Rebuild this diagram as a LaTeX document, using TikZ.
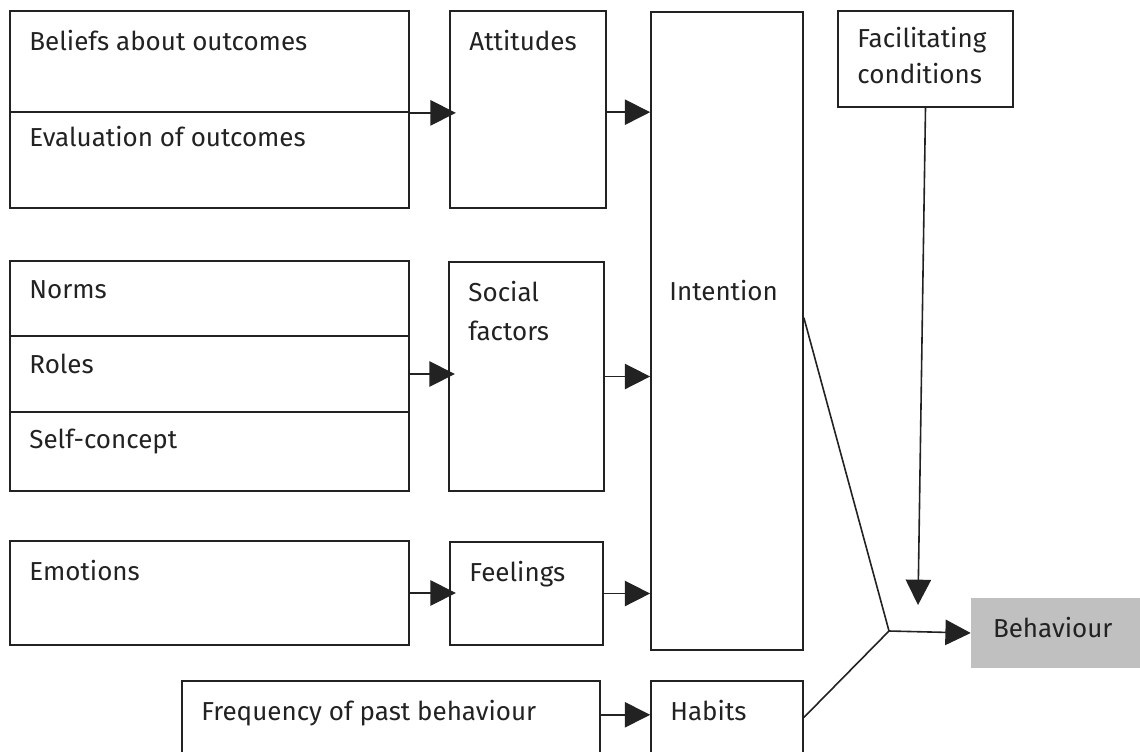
\documentclass[tikz,border=0pt]{standalone}
\usepackage{fontspec}
\setmainfont{Fira Sans}
\usetikzlibrary{arrows.meta,fit}
\definecolor{ink}{RGB}{34,34,34}
\definecolor{behgray}{RGB}{192,192,192}
\tikzset{box/.style={draw=ink,line width=1.3pt,inner sep=0pt},
  lbl/.style={anchor=base west,inner sep=0pt,xshift=15pt,yshift=-30pt,align=left,text=ink,font=\fontsize{19.5pt}{28pt}\selectfont},
  tl/.style={label={[lbl]north west:#1}}}

\begin{document}
\begin{tikzpicture}[x=0.75pt,y=-0.75pt]
\tikzset{arr/.style={draw=ink,line width=1.2pt,-{Triangle[length=19pt,width=19pt]}},
  link/.style={draw=ink,line width=1.2pt}}
\useasboundingbox (0,0) rectangle (1140,751);
\clip (0,0) rectangle (1140,751);
% first column
\node[box,fit={(10,11) (409,112)},tl=Beliefs about outcomes] (beliefs) {};
\node[box,fit={(10,112) (409,208)},label={[lbl,yshift=3.5pt]north west:Evaluation of outcomes}] (evaluation) {};
\node[box,fit={(10,261) (409,336)},label={[lbl,yshift=1.5pt]north west:Norms}] (norms) {};
\node[box,fit={(10,336) (409,412)},label={[lbl,yshift=1.5pt]north west:Roles}] (roles) {};
\node[box,fit={(10,412) (409,491)},label={[lbl,yshift=2pt]north west:Self-concept}] (selfconcept) {};
\node[box,fit={(10,541) (409,645)},tl=Emotions] (emotions) {};
\node[box,fit={(182,681) (600,770)},tl=Frequency of past behaviour] (frequency) {};
% second column
\node[box,fit={(450,11) (606,208)},tl=Attitudes] (attitudes) {};
\node[box,fit={(449,262) (604,491)},label={[lbl,yshift=-29.25pt,font=\fontsize{19.5pt}{29.25pt}\selectfont]north west:{Social\\factors}}] (social) {};
\node[box,fit={(450,542) (603,645)},tl=Feelings] (feelings) {};
\node[box,fit={(651,681) (803,770)},tl=Habits] (habits) {};
% intention and the rest
\node[box,fit={(651,12) (803,650)},label={[lbl,xshift=-0.75pt,yshift=-187pt]north west:Intention}] (intention) {};
\node[box,fit={(838,11) (1013,107)},label={[lbl,yshift=-24.75pt,font=\fontsize{19.5pt}{27pt}\selectfont]north west:{Facilitating\\conditions}}] (facilitating) {};
\node[fill=behgray,inner sep=0pt,fit={(971,598) (1145,668)},label={[lbl,xshift=1.5pt]north west:Behaviour}] (behaviour) {};
\coordinate (join) at (889,631);
\coordinate (fctip) at (918,605);
% arrows
\draw[arr,shorten >=-5pt] (beliefs.south east) -- (beliefs.south east -| attitudes.west);
\draw[arr] ([yshift=-2pt]attitudes.east) -- ([yshift=-2pt]attitudes.east -| intention.west);
\draw[arr,shorten >=-5pt] (roles.east) -- (roles.east -| social.west);
\draw[arr] (social.east) -- (social.east -| intention.west);
\draw[arr,shorten >=-5pt] (emotions.east) -- (emotions.east -| feelings.west);
\draw[arr] (feelings.east) -- (feelings.east -| intention.west);
\draw[arr] ([yshift=-26pt]frequency.north east) -- ([yshift=-26pt]frequency.north east -| habits.west);
\draw[arr] (facilitating.south) -- (fctip);
\draw[link] ([yshift=10pt]intention.east) -- (join) -- ([yshift=-28pt]habits.north east);
\draw[arr] (join) -- (behaviour.west);
\end{tikzpicture}
\end{document}
